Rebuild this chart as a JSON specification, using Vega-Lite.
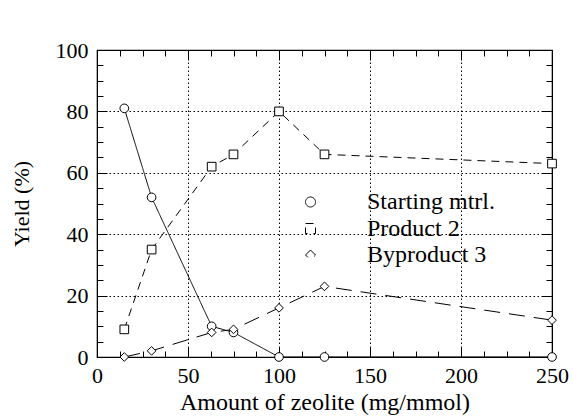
{
  "$schema": "https://vega.github.io/schema/vega-lite/v6.json",
  "width": 455,
  "height": 307,
  "autosize": "none",
  "padding": {"left": 97, "top": 50, "right": 21, "bottom": 59},
  "config": {
    "font": "Liberation Serif",
    "view": {"stroke": "black", "strokeWidth": 1.2},
    "axis": {"domainColor": "black", "tickColor": "black", "labelColor": "black", "titleColor": "black", "labelFont": "Liberation Serif", "titleFont": "Liberation Serif", "labelFontSize": 22, "titleFontSize": 22, "titleFontWeight": "normal", "labelFlush": false, "labelOverlap": false},
    "legend": {
      "title": null,
      "orient": "none",
      "legendX": 201.5,
      "legendY": 140,
      "padding": 0,
      "symbolSize": 100,
      "symbolStrokeWidth": 1,
      "symbolStrokeColor": "black",
      "symbolFillColor": "white",
      "labelFont": "Liberation Serif",
      "labelFontSize": 24,
      "labelColor": "black",
      "labelOffset": 44.5,
      "rowPadding": 2.5
    }
  },
  "data": {
    "values": [
      {"x": 15, "y": 81, "series": "Starting mtrl."},
      {"x": 30, "y": 52, "series": "Starting mtrl."},
      {"x": 63, "y": 10, "series": "Starting mtrl."},
      {"x": 75, "y": 8, "series": "Starting mtrl."},
      {"x": 100, "y": 0, "series": "Starting mtrl."},
      {"x": 125, "y": 0, "series": "Starting mtrl."},
      {"x": 250, "y": 0, "series": "Starting mtrl."},
      {"x": 15, "y": 9, "series": "Product 2"},
      {"x": 30, "y": 35, "series": "Product 2"},
      {"x": 63, "y": 62, "series": "Product 2"},
      {"x": 75, "y": 66, "series": "Product 2"},
      {"x": 100, "y": 80, "series": "Product 2"},
      {"x": 125, "y": 66, "series": "Product 2"},
      {"x": 250, "y": 63, "series": "Product 2"},
      {"x": 15, "y": 0, "series": "Byproduct 3"},
      {"x": 30, "y": 2, "series": "Byproduct 3"},
      {"x": 63, "y": 8, "series": "Byproduct 3"},
      {"x": 75, "y": 9, "series": "Byproduct 3"},
      {"x": 100, "y": 16, "series": "Byproduct 3"},
      {"x": 125, "y": 23, "series": "Byproduct 3"},
      {"x": 250, "y": 12, "series": "Byproduct 3"}
    ]
  },
  "resolve": {"axis": {"x": "independent", "y": "independent"}},
  "layer": [
    {
      "mark": {"type": "line", "color": "black", "strokeWidth": 1},
      "encoding": {
        "x": {
          "field": "x", "type": "quantitative",
          "scale": {"domain": [0, 250], "nice": false},
          "title": "Amount of zeolite (mg/mmol)",
          "axis": {
            "orient": "bottom",
            "values": [0, 12.5, 25, 37.5, 50, 62.5, 75, 87.5, 100, 112.5, 125, 137.5, 150, 162.5, 175, 187.5, 200, 212.5, 225, 237.5, 250],
            "labelExpr": "datum.value % 50 == 0 ? datum.label : ''",
            "grid": true,
            "gridColor": "black",
            "gridDash": [1.5, 2.5],
            "gridWidth": 1,
            "gridOpacity": {"condition": {"test": "datum.value % 50 != 0 || datum.value == 0 || datum.value == 250", "value": 0}, "value": 1},
            "tickSize": {"condition": {"test": "datum.value % 50 == 0", "value": -10}, "value": -6},
            "labelPadding": 18,
            "titleFontSize": 24,
            "titlePadding": 0
          }
        },
        "y": {
          "field": "y", "type": "quantitative",
          "scale": {"domain": [0, 100], "nice": false},
          "title": "Yield (%)",
          "axis": {
            "orient": "left",
            "values": [0, 5, 10, 15, 20, 25, 30, 35, 40, 45, 50, 55, 60, 65, 70, 75, 80, 85, 90, 95, 100],
            "labelExpr": "datum.value % 20 == 0 ? datum.label : ''",
            "grid": true,
            "gridColor": "black",
            "gridDash": [1.5, 2.5],
            "gridWidth": 1,
            "gridOpacity": {"condition": {"test": "datum.value % 20 != 0 || datum.value == 0 || datum.value == 100", "value": 0}, "value": 1},
            "tickSize": {"condition": {"test": "datum.value % 20 == 0", "value": -10}, "value": -6},
            "labelPadding": 19,
            "titleFontSize": 22,
            "titlePadding": 22
          }
        },
        "strokeDash": {
          "field": "series", "type": "nominal",
          "scale": {"domain": ["Starting mtrl.", "Product 2", "Byproduct 3"], "range": [[1, 0], [8, 6], [16, 9]]},
          "legend": {
            "encode": {
              "symbols": {
                "update": {
                  "shape": {"signal": "datum.value === 'Starting mtrl.' ? 'M -8.3 0 L -0.7 0 M 0.7 0 L 8.3 0 M 0.7 0 A 0.7 0.7 0 1 1 -0.7 0 A 0.7 0.7 0 1 1 0.7 0 Z' : datum.value === 'Product 2' ? 'M -8.3 0 L -0.8 0 M 0.8 0 L 8.3 0 M -0.8 -0.8 L 0.8 -0.8 L 0.8 0.8 L -0.8 0.8 Z' : 'M -8.3 0 L -0.8 0 M 0.8 0 L 8.3 0 M 0 -0.8 L 0.8 0 L 0 0.8 L -0.8 0 Z'"}
                }
              }
            }
          }
        }
      }
    },
    {
      "mark": {"type": "point", "filled": true, "fill": "white", "stroke": "black", "strokeWidth": 1, "size": 75, "opacity": 1},
      "encoding": {
        "x": {
          "field": "x", "type": "quantitative",
          "scale": {"domain": [0, 250], "nice": false},
          "axis": {
            "orient": "top", "title": null, "labels": false, "grid": false,
            "values": [0, 12.5, 25, 37.5, 50, 62.5, 75, 87.5, 100, 112.5, 125, 137.5, 150, 162.5, 175, 187.5, 200, 212.5, 225, 237.5, 250],
            "tickSize": {"condition": {"test": "datum.value % 50 == 0", "value": -10}, "value": -6}
          }
        },
        "y": {
          "field": "y", "type": "quantitative",
          "scale": {"domain": [0, 100], "nice": false},
          "axis": {
            "orient": "right", "title": null, "labels": false, "grid": false,
            "values": [0, 5, 10, 15, 20, 25, 30, 35, 40, 45, 50, 55, 60, 65, 70, 75, 80, 85, 90, 95, 100],
            "tickSize": {"condition": {"test": "datum.value % 20 == 0", "value": -10}, "value": -6}
          }
        },
        "shape": {
          "field": "series", "type": "nominal",
          "scale": {"domain": ["Starting mtrl.", "Product 2", "Byproduct 3"], "range": ["circle", "square", "diamond"]},
          "legend": {
            "encode": {
              "symbols": {
                "update": {
                  "shape": {"signal": "datum.value === 'Starting mtrl.' ? 'M -8.3 0 L -0.7 0 M 0.7 0 L 8.3 0 M 0.7 0 A 0.7 0.7 0 1 1 -0.7 0 A 0.7 0.7 0 1 1 0.7 0 Z' : datum.value === 'Product 2' ? 'M -8.3 0 L -0.8 0 M 0.8 0 L 8.3 0 M -0.8 -0.8 L 0.8 -0.8 L 0.8 0.8 L -0.8 0.8 Z' : 'M -8.3 0 L -0.8 0 M 0.8 0 L 8.3 0 M 0 -0.8 L 0.8 0 L 0 0.8 L -0.8 0 Z'"}
                }
              }
            }
          }
        }
      }
    }
  ]
}
